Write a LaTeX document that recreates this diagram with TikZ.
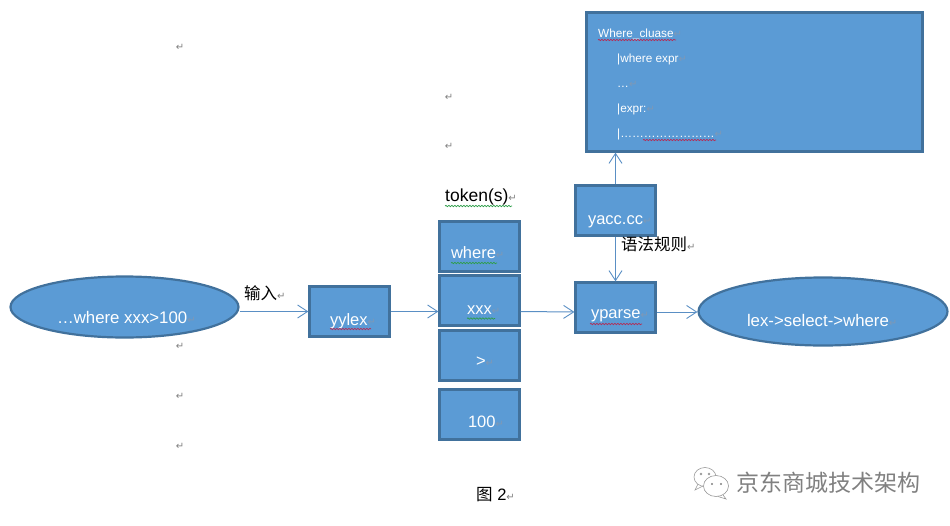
\documentclass[tikz,border=0pt]{standalone}
\usepackage{fontspec}
\setmainfont{Liberation Sans}
\newfontfamily\cjk{Noto Sans CJK SC}
\newfontfamily\djv{DejaVu Sans}
\usetikzlibrary{arrows.meta,decorations.pathmorphing,shapes.geometric}
\definecolor{fillblue}{HTML}{5B9BD5}
\definecolor{edgeblue}{HTML}{41719C}
\definecolor{lineblue}{HTML}{5A8FC4}
\definecolor{wavered}{HTML}{B0305A}
\definecolor{wavegreen}{HTML}{2E9E4A}
\definecolor{retgrey}{HTML}{808080}
\definecolor{markblue}{HTML}{7F98B5}
\newcommand{\ret}{{\djv\fontsize{10}{10}\selectfont\textcolor{retgrey}{↵}}}
\newcommand{\bret}{{\djv\fontsize{10}{10}\selectfont\textcolor{markblue}{↵}}}
% text placed by its left edge and baseline, relative to the node centre
\newcommand{\placed}[3]{\makebox[0pt][l]{\kern#1pt\raisebox{#2pt}[0pt][0pt]{#3}}}
\tikzset{
  x=1pt,y=-1pt,
  boxnode/.style={draw=edgeblue,line width=2.2pt,fill=fillblue,rectangle,inner sep=0pt,
    minimum width=80pt,minimum height=50pt,text=white,font=\fontsize{16.5}{18}\selectfont},
  ovalnode/.style={draw=edgeblue,line width=2.2pt,fill=fillblue,ellipse,inner sep=0pt,
    text=white,font=\fontsize{16.8}{18}\selectfont},
  wintext/.style={anchor=base west,inner sep=0pt,text=white,font=\fontsize{11.8}{13}\selectfont},
  freetext/.style={anchor=base west,inner sep=0pt,text=black,font=\fontsize{16.5}{18}\selectfont},
  retmark/.style={inner sep=0pt},
  flow/.style={draw=lineblue,line width=1pt,-{Straight Barb[length=10pt,width=13pt,line width=.9pt]}},
  wavy/.style={decorate,decoration={snake,amplitude=.7pt,segment length=3pt},line width=.7pt}
}
\begin{document}
\begin{tikzpicture}
\useasboundingbox (0,0) rectangle (950,525);
% ovals
\node[ovalnode,minimum width=228pt,minimum height=61pt] (input) at (124.5,307) {\placed{-67.5}{-16}{…where xxx>100\bret}};
\node[ovalnode,minimum width=249pt,minimum height=68pt] (result) at (823,311.5) {\placed{-76}{-14.5}{lex->select->where\bret}};
% boxes
\node[boxnode] (yylex) at (349.5,311.5) {\placed{-19.5}{-13.5}{yylex\bret}};
\node[boxnode] (where) at (479.5,246.5) {\placed{-28.5}{-11.5}{where\bret}};
\node[boxnode] (xxx) at (479.5,300.5) {\placed{-12.5}{-13.5}{xxx\bret}};
\node[boxnode] (gt) at (479.5,355.5) {\placed{-3.5}{-10.5}{>\bret}};
\node[boxnode] (hundred) at (479.5,414.5) {\placed{-11.5}{-12.5}{100\bret}};
\node[boxnode] (yparse) at (615.5,307.5) {\placed{-24.5}{-10.5}{yparse\bret}};
\node[boxnode] (yacc) at (615.5,210.5) {\placed{-27.5}{-13.5}{yacc.cc\bret}};
\node[boxnode,minimum width=336pt,minimum height=139pt] (clause) at (754.5,82) {};
% text of the clause box
\node[wintext] (t1) at (598,37) {Where\_cluase\bret};
\node[wintext] (t2) at (617,62) {|where expr\bret};
\node[wintext] (t3) at (617,87) {…\bret};
\node[wintext] (t4) at (617,112) {|expr:\bret};
\node[wintext] (t5) at (617,137) {|……………………\bret};
% named points where the level connectors meet the boxes
\coordinate (pin) at ([yshift=-4.5pt]yparse.west);
\coordinate (pout) at ([yshift=-4.5pt]yparse.east);
% connectors
\draw[flow] (input.east |- yylex.west) -- (yylex.west);
\draw[flow] (yylex.east) -- (xxx.west |- yylex.east);
\draw[flow] (xxx.east |- yylex.east) -- (pin);
\draw[flow] (pout) -- (result.west |- pout);
\draw[flow] (yacc.south) -- (yparse.north);
\draw[flow] (yacc.north) -- (yacc.north |- clause.south);
% free labels
\node[freetext] (inlabel) at (244,299) {{\cjk 输入}\ret};
\node[freetext,font=\fontsize{17.5}{19}\selectfont] (tokens) at (445,201) {token(s)\ret};
\node[freetext] (rule) at (621,250) {{\cjk 语法规则}\ret};
\node[freetext] (caption) at (476,500) {{\cjk 图} 2\ret};
% stray paragraph marks
\node[retmark] (r1) at (180,47) {\ret};
\node[retmark] (r2) at (449,97) {\ret};
\node[retmark] (r3) at (449,146) {\ret};
\node[retmark] (r4) at (180,346) {\ret};
\node[retmark] (r5) at (180,396) {\ret};
\node[retmark] (r6) at (180,446) {\ret};
% proofing underlines
\draw[wavy,wavered] (598,40) -- (676,40);
\draw[wavy,wavered] (643,140) -- (716,140);
\draw[wavy,wavered] (330,329) -- (371,329);
\draw[wavy,wavered] (590,324) -- (642,324);
\draw[wavy,wavegreen] (451,263) -- (497,263);
\draw[wavy,wavegreen] (467,318.5) -- (495,318.5);
\draw[wavy,wavegreen] (445,206) -- (512,206);
% watermark
\begin{scope}[draw=black!40,line width=.6pt,fill=white]
  \draw (705,477) ellipse [x radius=11pt,y radius=9.5pt];
  \draw (698,484) -- (695,490) -- (703,486);
  \filldraw (716,486) ellipse [x radius=12.5pt,y radius=10.5pt];
  \draw (723,495) -- (726,499) -- (718,496.5);
  \fill[black!50] (712,484) circle (1.1pt) (721,484) circle (1.1pt);
  \draw (701,474) circle (.9pt) (709,474) circle (.9pt);
\end{scope}
\node[anchor=base west,inner sep=0pt,text=black!50,font=\cjk\fontsize{23}{25}\selectfont] (wm) at (736,491) {京东商城技术架构};
\end{tikzpicture}
\end{document}
